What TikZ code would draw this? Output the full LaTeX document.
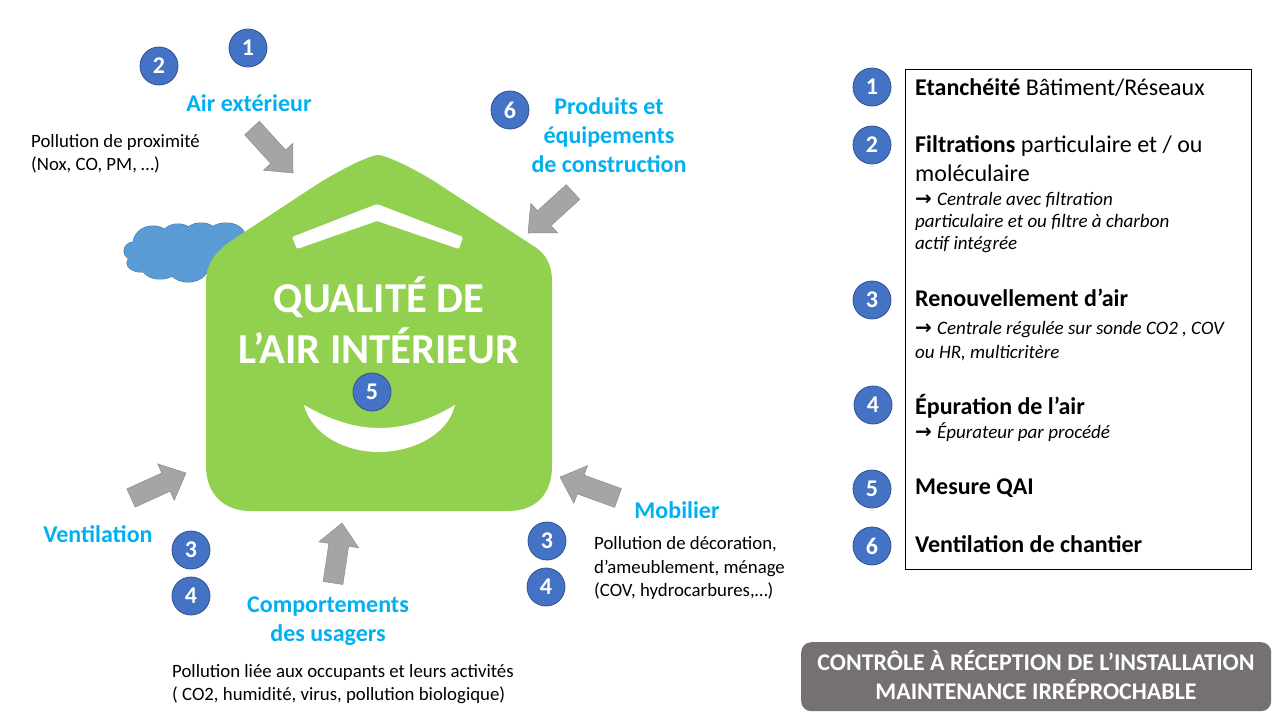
\documentclass[tikz,border=0pt]{standalone}
\usepackage{fontspec}
\setmainfont{Carlito}
\newfontfamily\arrowfont{DejaVu Sans}
\definecolor{numblue}{HTML}{4472C4}
\definecolor{numedge}{HTML}{2F528F}
\definecolor{cyantxt}{HTML}{00B0F0}
\definecolor{housegreen}{HTML}{92D050}
\definecolor{arrowgray}{HTML}{A5A5A5}
\definecolor{arrowedge}{HTML}{8C8C8C}
\definecolor{cloudblue}{HTML}{5B9BD5}
\definecolor{cloudedge}{HTML}{41719C}
\definecolor{btngray}{HTML}{767171}
\newcommand{\fs}[1]{\fontsize{#1}{#1}\selectfont}
\newcommand{\arr}{\makebox[22pt][l]{\upshape\bfseries\arrowfont\fontsize{20}{20}\selectfont\char"2192}}
% tip x, tip y, tail x, tail y
\newcommand{\blockarrow}[4]{%
  \begin{scope}[shift={(#1,#2)}]
  \pgfmathsetmacro{\ang}{atan2(-(#4-(#2)),#3-(#1))}
  \pgfmathsetmacro{\len}{veclen(#3-(#1),#4-(#2))}
  \begin{scope}[rotate=\ang]
  \fill[arrowgray,draw=arrowedge,line width=.5pt] (0,0)--(22,-20)--(22,-10)--(\len,-10)--(\len,10)--(22,10)--(22,20)--cycle;
  \end{scope}\end{scope}}
\tikzset{
  x=1pt,y=-1pt,
  num/.style={circle,fill=numblue,draw=numedge,line width=.8pt,text=white,minimum size=38pt,inner sep=0pt,font=\fs{24}\bfseries},
  head/.style={text=cyantxt,font=\fs{24}\bfseries,align=center,inner sep=0pt},
  small/.style={text=black,font=\fs{18.8},align=left,anchor=north west,inner sep=0pt},
  listh/.style={text=black,font=\fs{24},align=left,anchor=base west,inner sep=0pt},
  listi/.style={text=black,font=\fs{19}\itshape,align=left,anchor=base west,inner sep=0pt},
}
\begin{document}
\begin{tikzpicture}
\useasboundingbox (0,0) rectangle (1280,720);
% cloud
\def\cloudshapes#1{%
 \path[#1] (134,251) ellipse (10 and 9);
 \path[#1] (153,244) ellipse (20 and 18);
 \path[#1] (178,236) ellipse (16 and 12);
 \path[#1] (201,235) ellipse (17 and 12);
 \path[#1] (226,236) ellipse (19 and 13);
 \path[#1] (141,263) ellipse (14 and 9);
 \path[#1] (160,267) ellipse (18 and 12);
 \path[#1] (188,267) ellipse (20 and 15);
 \path[#1] (195,254) ellipse (48 and 20);
}
\cloudshapes{draw=cloudedge,line width=1pt}
\cloudshapes{fill=cloudblue}
% house
\fill[housegreen] (378,155) .. controls (372,155) and (345,166) .. (310,189)
  -- (243,233) .. controls (222,246) and (206,258) .. (206,282)
  -- (206,466) .. controls (206,495) and (225,511) .. (250,511)
  -- (508,511) .. controls (535,511) and (552,495) .. (552,466)
  -- (552,282) .. controls (552,265) and (546,254) .. (535,247)
  -- (446,189) .. controls (412,166) and (384,155) .. (378,155) -- cycle;
\fill[white,rounded corners=1.5pt] (292,237)--(377,204)--(463,237)--(459,249)--(377,221)--(297,249)--cycle;
\fill[white] (304,405) .. controls (330,420) and (355,428) .. (379,428) .. controls (405,428) and (430,420) .. (455,405)
  .. controls (448,435) and (412,452) .. (379,452) .. controls (345,452) and (312,435) .. (304,405) -- cycle;
\node[text=white,font=\fs{42.6}\bfseries,align=center,inner sep=0pt] (title) at (379,320) {QUALITÉ DE\\[8pt]L’AIR INTÉRIEUR};
% arrows
\blockarrow{293}{173}{252}{128}
\blockarrow{528}{233}{573}{192}
\blockarrow{186}{473}{131}{498}
\blockarrow{342}{523}{333}{583}
\blockarrow{560}{477}{618}{498}
% numbered circles left
\node[num] (a1) at (248,48) {1};
\node[num] (a2) at (159,66) {2};
\node[num] (a6) at (510,110) {6};
\node[num] (a5) at (372,392) {5};
\node[num] (v3) at (191,550) {3};
\node[num] (v4) at (191,596) {4};
\node[num] (m3) at (547,541) {3};
\node[num] (m4) at (546,587) {4};
% headings
\node[head] (h1) at (249,103) {Air extérieur};
\node[head] (h2) at (609,135.500) {Produits et\\[5pt]équipements\\[5pt]de construction};
\node[head] (h3) at (98,534) {Ventilation};
\node[head] (h4) at (328,621) {Comportements\\[5pt]des usagers};
\node[head] (h5) at (677,510) {Mobilier};
% small text
\node[small] (s1) at (31,134.500) {Pollution de proximité\\[4pt](Nox, CO, PM, …)};
\node[small] (s2) at (594,536) {Pollution de décoration,\\[5pt]d’ameublement, ménage\\[5pt](COV, hydrocarbures,…)};
\node[small] (s3) at (172,664) {Pollution liée  aux occupants et leurs activités\\[4pt]( CO2, humidité, virus, pollution biologique)};
% list
\node[draw=black,line width=.8pt,minimum width=346pt,minimum height=500pt,anchor=north west,inner sep=0pt] (box) at (905,68.500) {};
\node[num] (l1) at (872,87) {1};
\node[num] (l2) at (872,145) {2};
\node[num] (l3) at (872,300) {3};
\node[num] (l4) at (873,405) {4};
\node[num] (l5) at (872,489) {5};
\node[num] (l6) at (872,546) {6};
\node[listh] (t1) at (915,95) {\textbf{Etanchéité} Bâtiment/Réseaux};
\node[listh] (t2) at (915,152) {\textbf{Filtrations} particulaire et / ou};
\node[listh] (t2b) at (915,181) {moléculaire};
\node[listi] (t2c) at (915,205) {\arr{}Centrale avec filtration};
\node[listi] (t2d) at (915,227) {particulaire et ou filtre à charbon};
\node[listi] (t2e) at (915,249) {actif intégrée};
\node[listh] (t3) at (915,306) {\textbf{Renouvellement d’air}};
\node[listi] (t3b) at (915,334) {\arr{}Centrale régulée sur sonde CO2 , COV};
\node[listi] (t3c) at (915,358) {ou HR, multicritère};
\node[listh] (t4) at (915,414) {\textbf{Épuration de l’air}};
\node[listi] (t4b) at (915,438) {\arr{}Épurateur par procédé};
\node[listh] (t5) at (915,494) {\textbf{Mesure QAI}};
\node[listh] (t6) at (915,552.500) {\textbf{Ventilation de chantier}};
% button
\node[fill=btngray,rounded corners=10pt,minimum width=470pt,minimum height=69pt,anchor=north west,inner sep=0pt] (btn) at (801,642) {};
\node[text=white,font=\fs{23.9}\bfseries,align=center,inner sep=0pt] (btnt) at (1036,675) {CONTRÔLE À RÉCEPTION DE L’INSTALLATION\\[5pt]MAINTENANCE IRRÉPROCHABLE};
\end{tikzpicture}
\end{document}
